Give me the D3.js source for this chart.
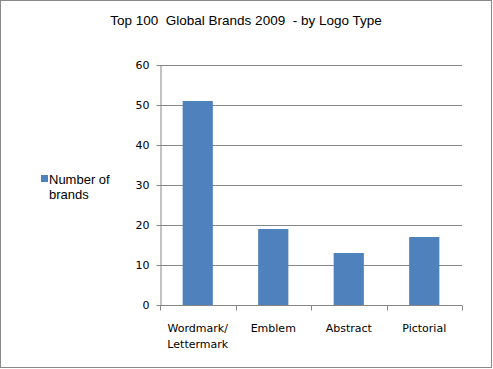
<!DOCTYPE html>
<html><head><meta charset="utf-8">
<script src="https://cdn.jsdelivr.net/npm/d3@7"></script>
<style>body{margin:0;background:#fff}svg{display:block}</style>
</head><body>
<script>
const categories = [["Wordmark/","Lettermark"],["Emblem"],["Abstract"],["Pictorial"]];
const values = [51, 19, 13, 17];
const yTicks = [0, 10, 20, 30, 40, 50, 60];
const seriesName = ["Number of", "brands"];
const title = "Top 100  Global Brands 2009  - by Logo Type";

(function(){
const W = 493, H = 369;
const svg = d3.select("body").append("svg").attr("width", W).attr("height", H);
svg.append("rect").attr("x",0.5).attr("y",0.5).attr("width",W-2).attr("height",H-2)
  .attr("fill","#fff").attr("stroke","#888");

const pLeft = 160, pRight = 462, pTop = 65, pBottom = 305;
const x = d3.scaleBand().domain(d3.range(categories.length)).range([pLeft, pRight]).paddingInner(0.6).paddingOuter(0.3);
const y = d3.scaleLinear().domain([0, 60]).range([pBottom, pTop]);

// gridlines
svg.append("g").selectAll("line").data(yTicks.filter(d=>d>0)).join("line")
  .attr("x1", pLeft).attr("x2", pRight).attr("y1", d=>Math.round(y(d))+0.5).attr("y2", d=>Math.round(y(d))+0.5)
  .attr("stroke","#868686");

// bars
svg.append("g").selectAll("rect").data(values).join("rect")
  .attr("x",(d,i)=>x(i)).attr("width",x.bandwidth())
  .attr("y",d=>y(d)).attr("height",d=>pBottom-y(d)).attr("fill","#4f81bd");

// y axis
const ya = svg.append("g").attr("transform",`translate(${pLeft+0.5},0)`)
  .call(d3.axisLeft(y).tickValues(yTicks).tickSize(4).tickPadding(7).tickSizeOuter(0));
ya.select(".domain").attr("stroke","#868686");
ya.selectAll(".tick line").attr("stroke","#868686");
ya.selectAll("text").attr("font-family","DejaVu Sans, Verdana, sans-serif").attr("font-size","11px").attr("fill","#000");

// x axis
const xb = d3.scaleLinear().domain([0, categories.length]).range([pLeft, pRight]);
const xa = svg.append("g").attr("transform",`translate(0,${pBottom+0.5})`);
xa.append("line").attr("x1",pLeft).attr("x2",pRight).attr("stroke","#868686");
xa.selectAll("line.t").data(d3.range(categories.length+1)).join("line").attr("class","t")
  .attr("x1",d=>Math.round(xb(d))+0.5).attr("x2",d=>Math.round(xb(d))+0.5).attr("y1",0).attr("y2",5).attr("stroke","#868686");
const lbl = xa.selectAll("text").data(categories).join("text")
  .attr("x",(d,i)=>x(i)+x.bandwidth()/2).attr("y",26)
  .attr("text-anchor","middle").attr("font-family","DejaVu Sans, Verdana, sans-serif").attr("font-size","11px");
lbl.selectAll("tspan").data(d=>d).join("tspan")
  .attr("x",function(){return this.parentNode.getAttribute("x");}).attr("dy",(d,i)=>i?16:0).text(d=>d);

// title
svg.append("text").attr("x",246).attr("y",25).attr("text-anchor","middle")
  .attr("font-family","Liberation Sans, Arial, sans-serif").attr("font-size","13.5px").style("white-space","pre").text(title);

// legend
svg.append("rect").attr("x",41).attr("y",175).attr("width",7).attr("height",7).attr("fill","#4f81bd");
svg.append("text").attr("x",49).attr("y",184).attr("font-family","Liberation Sans, Arial, sans-serif").attr("font-size","13px")
  .selectAll("tspan").data(seriesName).join("tspan").attr("x",49).attr("dy",(d,i)=>i?15:0).text(d=>d);
})();
</script>
</body></html>
